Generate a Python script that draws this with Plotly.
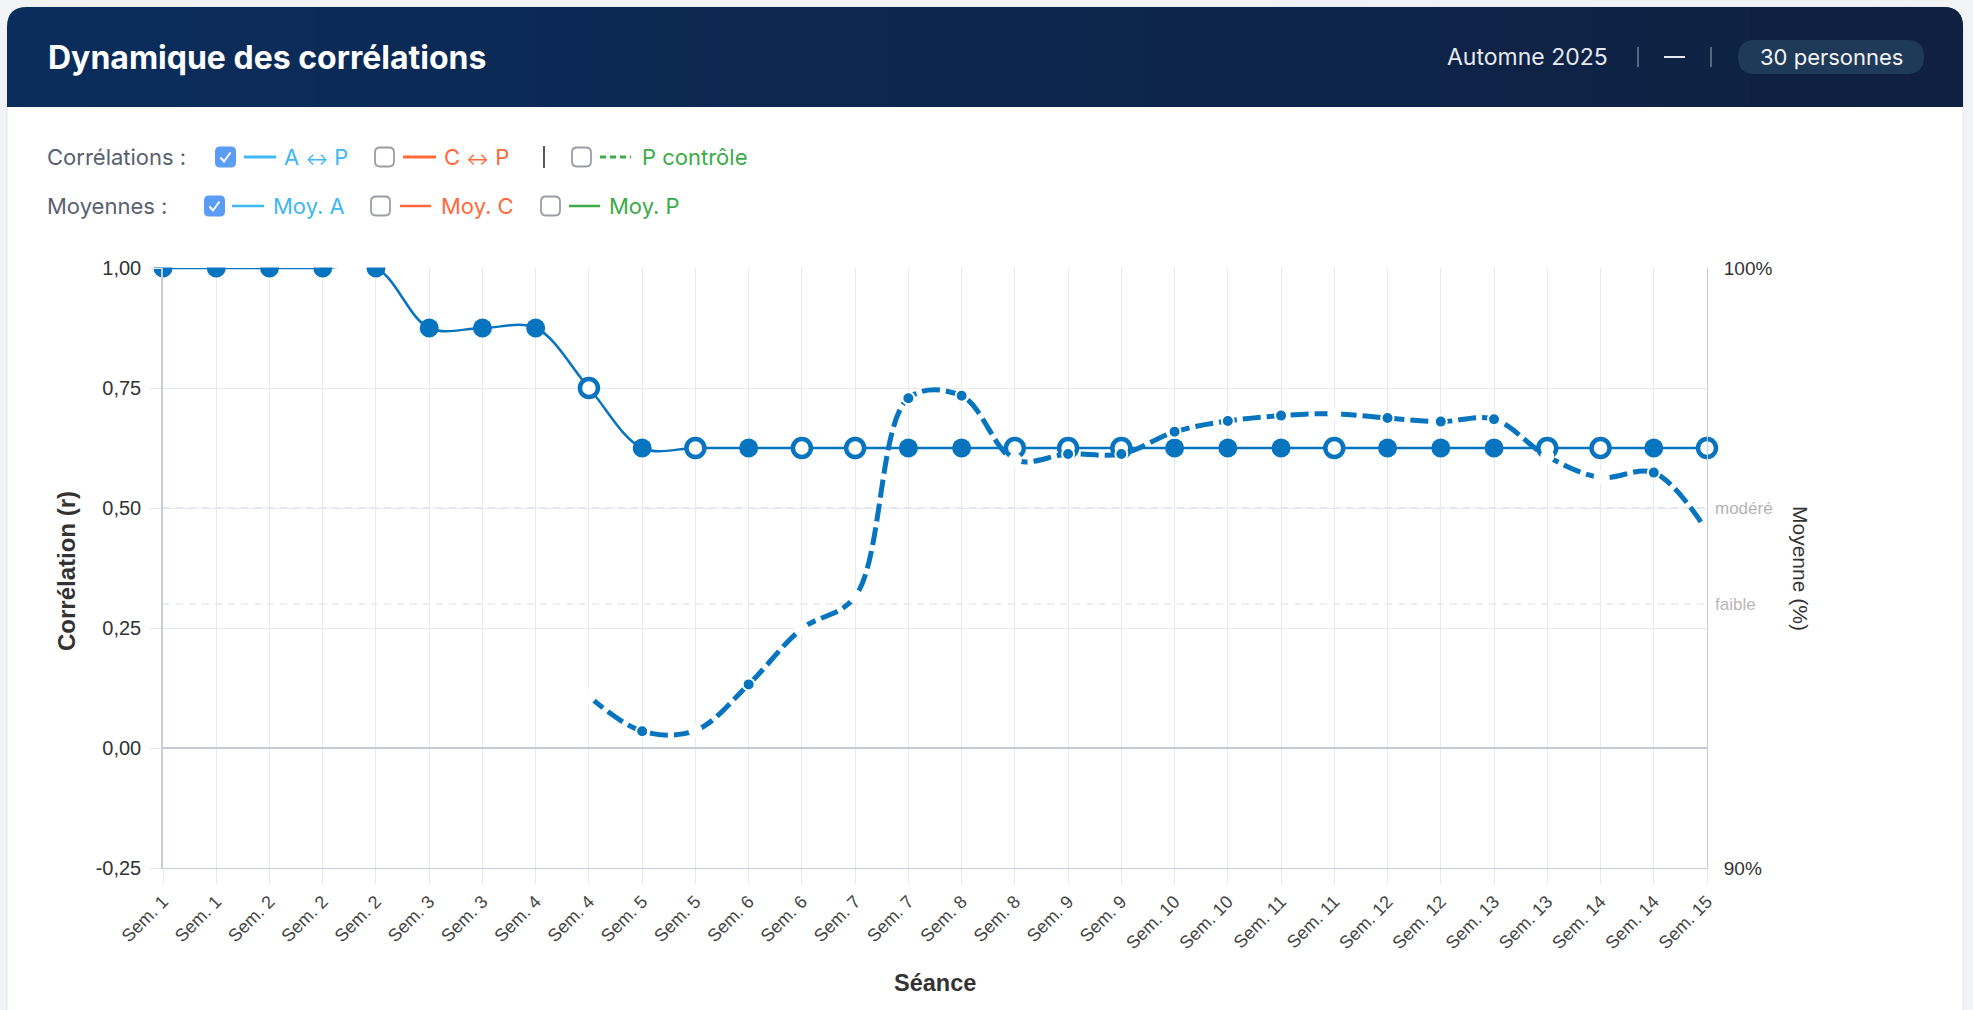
import plotly.graph_objects as go

# ---------------- data ----------------
categories = ["Sem. 1", "Sem. 1", "Sem. 2", "Sem. 2", "Sem. 2", "Sem. 3", "Sem. 3",
              "Sem. 4", "Sem. 4", "Sem. 5", "Sem. 5", "Sem. 6", "Sem. 6", "Sem. 7",
              "Sem. 7", "Sem. 8", "Sem. 8", "Sem. 9", "Sem. 9", "Sem. 10", "Sem. 10",
              "Sem. 11", "Sem. 11", "Sem. 12", "Sem. 12", "Sem. 13", "Sem. 13",
              "Sem. 14", "Sem. 14", "Sem. 15"]

corr_ap = [1.0, 1.0, 1.0, 1.0, 1.0, 0.875, 0.875, 0.875, 0.75, 0.625,
           0.625, 0.625, 0.625, 0.625, 0.625, 0.625, 0.625, 0.625, 0.625, 0.625,
           0.625, 0.625, 0.625, 0.625, 0.625, 0.625, 0.625, 0.625, 0.625, 0.625]

# True = filled point, False = open point
corr_filled = [True, True, True, True, True, True, True, True, False, True,
               False, True, False, False, True, True, False, False, False, True,
               True, True, False, True, True, True, False, False, True, False]

moy_a = [None, None, None, None, None, None, None, None,
         92.86, 92.28, 92.29, 93.06, 93.99, 94.52, 97.83, 97.87, 96.80, 96.90,
         96.90, 97.27, 97.45, 97.54, 97.57, 97.50, 97.44, 97.48, 96.86, 96.51,
         96.59, 95.62]

moy_marker = [False, False, False, False, False, False, False, False,
              False, True, False, True, False, False, True, True, False, True,
              True, True, True, True, False, True, True, True, False, False,
              True, False]

y_ticks = [-0.25, 0.0, 0.25, 0.5, 0.75, 1.0]
y_ticktext = ["-0,25", "0,00", "0,25", "0,50", "0,75", "1,00"]
y2_ticks = [90, 100]
y2_ticktext = ["90%", "100%"]
ref_lines = [(0.5, "modéré", "#c4c7cc", "#b3b3b3"), (0.3, "faible", "#dcdde0", "#b8b8b8")]

# ---------------- geometry ----------------
W, H = 1973, 1010
L, R, T, B = 163, 1707, 268, 868

def X(x):
    return (x - L) / (R - L)

def Y(y):
    return (B - y) / (B - T)

def rrect(x0, y0, x1, y1, r, top_only=False):
    """rounded rectangle path in pixel coords -> paper coords"""
    p = []
    p.append(f"M {X(x0 + r)},{Y(y0)}")
    p.append(f"L {X(x1 - r)},{Y(y0)}")
    p.append(f"Q {X(x1)},{Y(y0)} {X(x1)},{Y(y0 + r)}")
    if top_only:
        p.append(f"L {X(x1)},{Y(y1)}")
        p.append(f"L {X(x0)},{Y(y1)}")
    else:
        p.append(f"L {X(x1)},{Y(y1 - r)}")
        p.append(f"Q {X(x1)},{Y(y1)} {X(x1 - r)},{Y(y1)}")
        p.append(f"L {X(x0 + r)},{Y(y1)}")
        p.append(f"Q {X(x0)},{Y(y1)} {X(x0)},{Y(y1 - r)}")
    p.append(f"L {X(x0)},{Y(y0 + r)}")
    p.append(f"Q {X(x0)},{Y(y0)} {X(x0 + r)},{Y(y0)}")
    p.append("Z")
    return " ".join(p)

shapes = []
annotations = []

def add_path(path, fill, line_color=None, line_width=0, layer="below"):
    shapes.append(dict(type="path", xref="paper", yref="paper", path=path,
                       fillcolor=fill, layer=layer,
                       line=dict(color=line_color or fill, width=line_width)))

def add_rect(x0, y0, x1, y1, fill, layer="below"):
    shapes.append(dict(type="rect", xref="paper", yref="paper",
                       x0=X(x0), x1=X(x1), y0=Y(y1), y1=Y(y0),
                       fillcolor=fill, line=dict(width=0), layer=layer))

def add_line(x0, y0, x1, y1, color, width, dash="solid", layer="below"):
    shapes.append(dict(type="line", xref="paper", yref="paper",
                       x0=X(x0), x1=X(x1), y0=Y(y0), y1=Y(y1),
                       line=dict(color=color, width=width, dash=dash), layer=layer))

def add_text(x, y, text, size, color, family="Inter", xanchor="left", angle=0, bold=False):
    if bold:
        text = f"<b>{text}</b>"
    annotations.append(dict(xref="paper", yref="paper", x=X(x), y=Y(y), text=text,
                            showarrow=False, xanchor=xanchor, yanchor="middle",
                            textangle=angle,
                            font=dict(size=size, color=color, family=family)))

def lerp_color(c0, c1, t):
    a = [int(c0[i:i + 2], 16) for i in (1, 3, 5)]
    b = [int(c1[i:i + 2], 16) for i in (1, 3, 5)]
    return "#" + "".join(f"{round(a[k] + (b[k] - a[k]) * t):02x}" for k in range(3))

# card
add_path(rrect(7, 7, 1963, 1040, 20, top_only=True), "#ffffff", "#e3e6ea", 1)

# header with horizontal gradient
HX0, HX1, HY0, HY1 = 7, 1963, 7, 107
C_LEFT, C_RIGHT = "#0a2d5c", "#0f2040"
add_path(rrect(HX0, HY0, HX1, HY1, 20, top_only=True), C_LEFT)
n_strips = 60
sx0, sx1 = 27, 1943
sw = (sx1 - sx0) / n_strips
for i in range(n_strips):
    xa = sx0 + i * sw
    t = (xa + sw / 2 - HX0) / (HX1 - HX0)
    add_rect(xa, HY0, xa + sw + 1.2, HY1, lerp_color(C_LEFT, C_RIGHT, t))
add_path(f"M {X(1940)},{Y(HY0)} L {X(1943)},{Y(HY0)} Q {X(1963)},{Y(HY0)} {X(1963)},{Y(HY0 + 20)} "
         f"L {X(1963)},{Y(HY1)} L {X(1940)},{Y(HY1)} Z", C_RIGHT)

add_text(46, 57, "Dynamique des corrélations", 32, "#ffffff", bold=True)
add_text(1610, 57, "Automne 2025", 23, "#e6eaf0", xanchor="right")
add_line(1638, 47, 1638, 67, "#6f7f98", 1.5)
add_line(1664, 57, 1685, 57, "#e6eaf0", 2)
add_line(1711, 47, 1711, 67, "#6f7f98", 1.5)
add_path(rrect(1738, 40, 1924, 74, 17), "#1f3a58")
add_text(1831, 57, "30 personnes", 22, "#f2f4f7", xanchor="center")

# controls
SKY, ORANGE, GREEN = "#3db8f2", "#ff6a3c", "#3aab47"
LABEL = "#596070"
FS = 22
ARROW = "<span style='font-size:17px'>↔</span>"

def checkbox(x0, yc, checked):
    s = 21
    y0 = yc - s / 2
    if checked:
        add_path(rrect(x0, y0, x0 + s, y0 + s, 5), "#5b9cf5", layer="above")
        path = (f"M {X(x0 + 5.5)},{Y(yc + 0.5)} L {X(x0 + 9)},{Y(yc + 4.5)} "
                f"L {X(x0 + 15.5)},{Y(yc - 4.5)}")
        shapes.append(dict(type="path", xref="paper", yref="paper", path=path,
                           line=dict(color="#ffffff", width=2), layer="above"))
    else:
        add_path(rrect(x0 + 1, y0 + 1, x0 + s - 1, y0 + s - 1, 5), "#ffffff", "#9a9da3", 1.8,
                 layer="above")

row1, row2 = 157, 206
add_text(45, row1, "Corrélations :", FS, LABEL)
checkbox(215, row1, True)
add_line(244, row1, 276, row1, SKY, 3)
add_text(282, row1, f"A {ARROW} P", FS, SKY)
checkbox(374, row1, False)
add_line(403, row1, 436, row1, ORANGE, 3)
add_text(442, row1, f"C {ARROW} P", FS, ORANGE)
add_line(544, row1 - 11, 544, row1 + 11, "#555b66", 2)
checkbox(571, row1, False)
add_line(600, row1, 631, row1, GREEN, 3, dash="6px,4px")
add_text(640, row1, "P contrôle", FS, GREEN)

add_text(45, row2, "Moyennes :", FS, LABEL)
checkbox(204, row2, True)
add_line(232, row2, 264, row2, SKY, 2.5)
add_text(271, row2, "Moy. A", FS, SKY)
checkbox(370, row2, False)
add_line(400, row2, 431, row2, ORANGE, 2.5)
add_text(439, row2, "Moy. C", FS, ORANGE)
checkbox(540, row2, False)
add_line(569, row2, 600, row2, GREEN, 2.5)
add_text(607, row2, "Moy. P", FS, GREEN)

# reference lines + labels
for val, lab, lc, tc in ref_lines:
    shapes.append(dict(type="line", xref="paper", yref="y", x0=0, x1=1, y0=val, y1=val,
                       line=dict(color=lc, width=1.2, dash="7px,6px"), layer="below"))
    annotations.append(dict(xref="paper", yref="y", x=X(1713), y=val, text=lab,
                            showarrow=False, xanchor="left", yanchor="middle",
                            font=dict(size=17, color=tc, family="Liberation Sans, Arial")))

# cover above plot top (markers at r = 1 are cut in half)
add_rect(145, 235, 1722, 267.4, "#ffffff", layer="above")

# axis titles
add_text(66, 571, "Corrélation (r)", 24, "#333333", family="Liberation Sans, Arial", xanchor="center",
         angle=-90, bold=True)
add_text(1801, 568, "Moyenne (%)", 21, "#333333", family="Liberation Sans, Arial", xanchor="center",
         angle=90)
add_text(935, 983, "Séance", 23.5, "#333333", family="Liberation Sans, Arial", xanchor="center",
         bold=True)

# ---------------- traces ----------------
BLUE = "#0774bf"
xs = list(range(len(categories)))

corr_color = [BLUE if f else "#ffffff" for f in corr_filled]
corr_size = [19 if f else 18 for f in corr_filled]
corr_lw = [0 if f else 4.5 for f in corr_filled]

moy_color = [BLUE if m else "#ffffff" for m in moy_marker]

fig = go.Figure()
fig.add_trace(go.Scatter(
    x=xs, y=corr_ap, mode="lines+markers", name="A ↔ P",
    line=dict(color=BLUE, width=2.5, shape="spline", smoothing=1.0),
    marker=dict(color=corr_color, size=corr_size, symbol="circle", opacity=1,
                line=dict(color=BLUE, width=corr_lw)),
    opacity=1, cliponaxis=False, yaxis="y"))
fig.add_trace(go.Scatter(
    x=xs, y=moy_a, mode="lines+markers", name="Moy. A",
    line=dict(color=BLUE, width=5, shape="spline", smoothing=1.0, dash="18px,6px"),
    marker=dict(color=moy_color, size=12, opacity=1, line=dict(color="#ffffff", width=2)),
    opacity=1, cliponaxis=False, yaxis="y2", connectgaps=False))

GRID = "#e6e9ef"
AXIS = "#c9ced6"
fig.update_layout(
    width=W, height=H,
    margin=dict(l=L, r=W - R, t=T, b=H - B, pad=0),
    paper_bgcolor="#f1f3f6", plot_bgcolor="#ffffff",
    showlegend=False,
    font=dict(family="Liberation Sans, Arial", color="#333333"),
    shapes=shapes, annotations=annotations,
    xaxis=dict(range=[0, 29], tickmode="array", tickvals=xs, ticktext=categories,
               tickangle=-45, tickfont=dict(size=18, color="#444444"),
               showgrid=True, gridcolor=GRID, gridwidth=1,
               ticks="outside", ticklen=15, tickcolor=GRID,
               showline=True, linecolor=AXIS, linewidth=1, zeroline=False, fixedrange=True),
    yaxis=dict(range=[-0.25, 1.0], tickmode="array", tickvals=y_ticks, ticktext=y_ticktext,
               tickfont=dict(size=20, color="#333333"),
               showgrid=True, gridcolor=GRID, gridwidth=1,
               ticks="outside", ticklen=12, tickcolor=GRID, ticklabelstandoff=4,
               showline=True, linecolor=AXIS, linewidth=1.5,
               zeroline=True, zerolinecolor="#c5cad3", zerolinewidth=1.5, fixedrange=True),
    yaxis2=dict(range=[90, 100], overlaying="y", side="right", tickmode="array",
                tickvals=y2_ticks, ticktext=y2_ticktext, tickfont=dict(size=19, color="#333333"),
                showgrid=False, zeroline=False, ticks="", ticklabelstandoff=12,
                showline=True, linecolor=AXIS, linewidth=1, fixedrange=True),
)

fig.write_html("out.html", config={"displayModeBar": False},
               post_script="document.body.style.margin='0';document.body.style.overflow='hidden';"
                           "document.body.style.background='#f1f3f6';")
